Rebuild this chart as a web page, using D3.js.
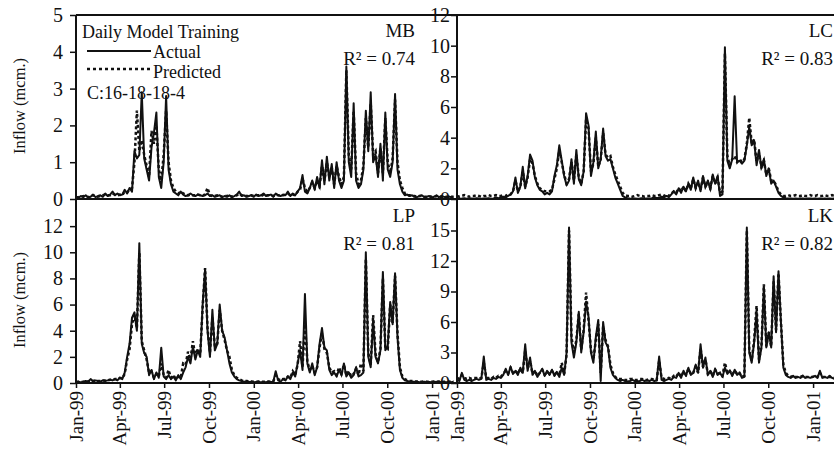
<!DOCTYPE html>
<html>
<head>
<meta charset="utf-8">
<script src="https://cdn.jsdelivr.net/npm/d3@7"></script>
<style>
  body { margin: 0; background: #fff; }
  svg, svg text { font-family: "Liberation Serif", "Times New Roman", "DejaVu Serif", serif; }
</style>
</head>
<body>
<svg id="chart" width="834" height="462"></svg>
<script>
// daily inflow, sampled every 5 days from 1 Jan 1999
var startDate = new Date(Date.UTC(1999, 0, 1));
var stepDays = 5;

var mbActual = [
  0.05,0.03,0.08,0.05,0.1,0.04,0.06,0.12,0.05,0.08,
  0.1,0.06,0.15,0.08,0.12,0.2,0.1,0.15,0.1,0.12,
  0.25,0.15,0.3,0.2,1.3,1.1,1.2,2.9,1.1,0.8,
  0.5,1.4,1.8,2.35,0.6,0.3,1.0,2.8,0.8,0.4,
  0.2,0.15,0.1,0.2,0.12,0.08,0.1,0.15,0.1,0.08,
  0.12,0.1,0.08,0.1,0.15,0.08,0.1,0.06,0.08,0.1,
  0.05,0.08,0.06,0.1,0.05,0.08,0.12,0.2,0.08,0.1,
  0.06,0.08,0.1,0.06,0.12,0.08,0.1,0.15,0.08,0.1,
  0.12,0.06,0.15,0.1,0.08,0.12,0.1,0.2,0.08,0.15,
  0.1,0.2,0.3,0.65,0.2,0.15,0.3,0.5,0.25,0.6,
  0.3,1.05,0.4,1.15,0.5,0.95,0.3,1.0,0.5,0.3,
  0.5,3.6,1.0,0.6,2.6,0.5,0.3,0.4,0.8,2.4,
  1.3,2.9,1.0,1.2,0.6,1.5,0.5,2.35,0.8,0.6,
  1.0,2.85,0.8,0.4,0.2,0.1,0.12,0.08,0.1,0.06,
  0.05,0.08,0.1,0.05,0.06,0.08,0.04,0.06,0.1,0.05,
  0.08,0.06,0.05,0.07,0.05,0.06];
var mbPredicted = [
  0.05,0.05,0.06,0.08,0.06,0.05,0.08,0.1,0.08,0.06,
  0.08,0.1,0.12,0.1,0.1,0.15,0.12,0.1,0.12,0.1,
  0.2,0.18,0.25,0.3,1.0,2.4,1.3,1.6,1.2,0.9,
  0.6,1.85,1.5,2.0,0.8,0.5,1.2,2.4,1.0,0.5,
  0.3,0.2,0.15,0.2,0.15,0.12,0.1,0.12,0.1,0.1,
  0.12,0.1,0.1,0.12,0.3,0.1,0.08,0.08,0.1,0.08,
  0.06,0.08,0.08,0.1,0.06,0.08,0.1,0.15,0.1,0.1,
  0.08,0.08,0.1,0.08,0.1,0.1,0.08,0.12,0.1,0.1,
  0.1,0.08,0.12,0.1,0.1,0.1,0.12,0.15,0.1,0.12,
  0.1,0.2,0.25,0.55,0.3,0.2,0.3,0.45,0.3,0.5,
  0.35,0.9,0.5,1.0,0.6,0.85,0.4,0.9,0.6,0.4,
  0.6,3.5,1.2,0.8,2.4,0.7,0.4,0.5,0.9,2.2,
  1.4,2.6,1.2,1.3,0.7,1.4,0.7,2.2,1.0,0.7,
  1.1,2.7,1.0,0.5,0.3,0.15,0.1,0.1,0.08,0.08,
  0.06,0.08,0.08,0.06,0.06,0.08,0.06,0.06,0.08,0.06,
  0.06,0.06,0.06,0.06,0.06,0.06];

var lcActual = [
  0.05,0.02,0.03,0.05,0.02,0.04,0.03,0.02,0.05,0.03,
  0.02,0.04,0.03,0.05,0.02,0.04,0.1,0.05,0.08,0.15,
  0.1,0.2,0.3,0.5,1.4,0.4,0.8,2.1,0.7,1.5,
  2.9,2.5,1.4,0.9,0.6,0.5,0.3,0.4,0.3,0.5,
  1.5,2.2,3.5,2.5,1.5,0.9,1.2,2.6,1.0,3.2,
  1.3,0.9,1.8,5.6,4.8,1.5,2.4,4.4,2.0,2.6,
  4.6,2.8,2.5,2.6,2.0,1.4,1.0,0.6,0.2,0.1,
  0.05,0.03,0.02,0.04,0.02,0.03,0.05,0.02,0.04,0.03,
  0.05,0.1,0.06,0.08,0.15,0.1,0.2,0.12,0.3,0.5,
  0.3,0.7,0.4,0.8,0.5,1.0,0.6,1.4,0.7,1.2,
  0.5,1.5,0.8,1.2,0.6,1.6,1.0,1.5,0.2,0.3,
  9.9,2.5,2.0,2.6,6.7,2.4,2.5,2.3,2.5,3.5,
  4.7,3.5,3.8,2.2,3.2,2.0,2.6,1.5,2.0,1.0,
  1.2,0.8,0.4,0.2,0.1,0.05,0.03,0.04,0.02,0.03,
  0.02,0.04,0.03,0.02,0.03,0.04,0.02,0.03,0.02,0.03,
  0.02,0.03,0.02,0.03,0.02,0.03];
var lcPredicted = [
  0.2,0.15,0.2,0.25,0.2,0.15,0.2,0.2,0.25,0.2,
  0.15,0.2,0.2,0.25,0.2,0.2,0.25,0.2,0.2,0.25,
  0.2,0.3,0.3,0.5,1.2,0.5,0.8,1.8,0.8,1.4,
  2.6,2.3,1.5,1.0,0.7,0.6,0.5,0.5,0.5,0.6,
  1.3,2.0,3.2,2.4,1.6,1.0,1.3,2.4,1.2,2.9,
  1.4,1.0,1.8,5.2,4.6,1.8,2.3,4.0,2.1,2.6,
  4.3,2.9,2.7,2.8,2.1,1.6,1.2,0.8,0.4,0.25,
  0.2,0.2,0.15,0.2,0.25,0.2,0.2,0.15,0.2,0.2,
  0.25,0.2,0.2,0.25,0.3,0.2,0.3,0.2,0.35,0.5,
  0.4,0.7,0.5,0.8,0.5,1.0,0.7,1.3,0.7,1.1,
  0.6,1.4,0.8,1.1,0.7,1.5,1.0,1.4,0.4,0.5,
  9.5,2.8,2.2,2.6,2.8,2.4,2.6,2.4,2.6,3.6,
  5.3,3.6,3.9,2.4,3.0,2.1,2.5,1.6,2.0,1.2,
  1.2,0.9,0.5,0.3,0.2,0.2,0.25,0.2,0.2,0.25,
  0.2,0.2,0.25,0.2,0.2,0.25,0.2,0.2,0.25,0.2,
  0.2,0.25,0.2,0.2,0.25,0.2];

var lpActual = [
  0.05,0.1,0.05,0.08,0.15,0.1,0.3,0.12,0.2,0.15,
  0.1,0.2,0.15,0.2,0.25,0.2,0.3,0.2,0.4,0.3,
  0.8,2.0,3.0,5.0,5.4,4.0,10.7,3.0,2.3,2.0,
  0.6,1.0,0.3,0.8,0.4,2.7,0.5,0.3,0.6,0.3,
  0.5,0.2,0.6,0.3,0.8,1.2,2.0,1.5,2.8,1.8,
  2.5,2.0,6.0,8.7,4.0,2.0,5.6,2.5,3.0,6.0,
  4.0,3.5,2.5,1.5,0.8,0.5,0.3,0.2,0.15,0.1,
  0.12,0.08,0.1,0.06,0.08,0.1,0.05,0.08,0.06,0.1,
  0.08,0.1,0.9,0.2,0.1,0.3,0.2,0.5,0.3,0.8,
  0.5,1.5,2.5,1.0,6.8,1.5,0.8,1.5,0.6,1.2,
  3.0,4.2,2.7,2.5,1.0,0.6,0.8,0.5,1.0,0.6,
  1.5,0.5,0.8,0.4,0.6,1.2,0.5,0.6,0.8,10.0,
  2.0,1.2,4.8,2.0,1.5,2.5,8.5,2.5,2.8,6.2,
  4.5,8.4,3.5,1.0,0.4,0.2,0.15,0.1,0.12,0.08,
  0.1,0.06,0.08,0.1,0.05,0.08,0.06,0.1,0.08,0.1,
  0.06,0.08,0.05,0.08,0.06,0.1];
var lpPredicted = [
  0.1,0.1,0.08,0.1,0.12,0.1,0.2,0.15,0.2,0.15,
  0.15,0.2,0.2,0.2,0.25,0.25,0.3,0.3,0.4,0.35,
  0.7,1.8,2.6,4.5,5.2,4.2,10.0,3.2,2.5,1.8,
  0.8,0.9,0.4,0.7,0.5,1.5,0.6,0.4,1.0,0.4,
  0.6,0.3,0.5,0.4,1.5,1.4,2.4,1.8,3.2,2.0,
  2.6,2.2,5.8,8.8,4.2,2.3,5.0,2.8,3.0,5.6,
  4.0,3.3,2.5,2.0,1.0,0.6,0.4,0.3,0.2,0.15,
  0.15,0.12,0.12,0.1,0.1,0.12,0.1,0.1,0.1,0.12,
  0.1,0.12,0.6,0.3,0.2,0.3,0.3,0.5,0.4,0.9,
  0.6,1.4,3.2,1.2,4.5,1.6,1.0,1.3,0.8,1.2,
  2.7,3.8,2.6,2.3,1.2,0.8,0.9,0.6,1.2,0.7,
  1.4,0.6,0.9,0.5,0.7,1.1,0.6,1.5,0.9,9.5,
  2.3,1.4,5.2,2.2,1.6,2.6,8.0,2.7,2.6,6.0,
  4.6,8.2,3.8,1.2,0.5,0.3,0.2,0.15,0.15,0.12,
  0.12,0.1,0.1,0.12,0.1,0.1,0.1,0.12,0.1,0.12,
  0.1,0.1,0.1,0.12,0.1,0.12];

var lkActual = [
  0.3,0.2,1.0,0.3,0.2,0.3,0.2,0.3,0.4,0.3,
  0.4,2.6,0.3,0.4,0.3,0.5,0.4,0.6,0.5,0.8,
  1.4,0.8,1.6,0.9,1.2,0.8,1.5,1.0,3.8,1.2,
  2.5,0.8,1.2,0.6,1.0,1.4,0.7,1.2,0.8,1.3,
  0.7,1.1,0.6,1.5,0.8,3.0,15.3,4.0,2.5,4.0,
  7.0,3.0,5.0,8.0,6.5,3.0,2.0,4.5,6.2,0.2,
  6.0,4.0,3.5,1.5,0.8,0.5,0.3,0.2,0.3,0.2,
  0.15,0.2,0.3,0.2,0.15,0.2,0.3,0.2,0.25,0.2,
  0.3,0.2,0.25,2.6,0.3,0.2,0.3,0.4,0.3,0.6,
  0.5,1.0,0.5,1.2,0.7,1.5,0.8,1.0,1.8,1.0,
  3.8,1.5,2.5,0.8,1.2,0.6,1.4,0.8,1.0,0.6,
  1.5,0.9,1.2,0.7,1.3,0.8,1.0,0.5,0.6,15.3,
  3.0,2.0,4.0,7.0,2.0,3.5,9.5,3.5,5.0,3.5,
  10.5,5.0,11.0,6.0,1.5,0.8,0.6,0.5,0.7,0.5,
  0.6,0.5,0.7,0.5,0.6,0.5,0.6,0.7,0.5,1.2,
  0.5,0.6,0.5,0.7,0.5,0.4];
var lkPredicted = [
  0.5,0.4,0.8,0.5,0.4,0.5,0.4,0.5,0.5,0.4,
  0.5,2.0,0.5,0.5,0.4,0.6,0.5,0.7,0.6,0.9,
  1.2,0.9,1.5,1.0,1.2,0.9,1.4,1.0,3.2,1.4,
  2.2,0.9,1.2,0.7,1.0,1.3,0.8,1.1,0.9,1.2,
  0.8,1.1,0.7,2.0,0.9,2.8,15.0,4.5,3.0,4.2,
  6.8,3.3,5.2,8.9,6.2,3.2,2.3,4.2,5.8,1.0,
  5.6,4.2,3.6,1.8,1.0,0.6,0.4,0.4,0.4,0.3,
  0.3,0.4,0.4,0.3,0.3,0.4,0.4,0.3,0.3,0.4,
  0.4,0.3,0.3,2.2,0.5,0.4,0.4,0.5,0.4,0.7,
  0.6,1.0,0.6,1.1,0.8,1.4,0.9,1.0,1.6,1.0,
  3.4,1.6,2.3,0.9,1.2,0.7,1.3,0.9,1.0,0.7,
  2.0,1.0,1.2,0.8,1.2,0.9,1.0,0.6,0.7,15.0,
  3.2,2.2,4.2,7.6,2.3,3.6,9.7,3.6,5.0,3.6,
  10.0,5.2,10.8,6.0,1.8,1.0,0.7,0.6,0.7,0.6,
  0.6,0.6,0.7,0.6,0.6,0.6,0.6,0.7,0.6,1.0,
  0.6,0.6,0.6,0.6,0.6,0.5];

var monthTicks = ["1999-01-01","1999-04-01","1999-07-01","1999-10-01","2000-01-01",
                  "2000-04-01","2000-07-01","2000-10-01","2001-01-01"];

var panels = [
  {name: "MB", r2: "0.74", actual: mbActual, predicted: mbPredicted, yMax: 5,  yTicks: [0,1,2,3,4,5],    col: 0, row: 0},
  {name: "LC", r2: "0.83", actual: lcActual, predicted: lcPredicted, yMax: 12, yTicks: [0,2,4,6,8,10,12], col: 1, row: 0},
  {name: "LP", r2: "0.81", actual: lpActual, predicted: lpPredicted, yMax: 14, yTicks: [0,2,4,6,8,10,12], col: 0, row: 1},
  {name: "LK", r2: "0.82", actual: lkActual, predicted: lkPredicted, yMax: 18, yTicks: [0,3,6,9,12,15],   col: 1, row: 1}
];

var serif = "'Liberation Serif', 'Times New Roman', 'DejaVu Serif', serif";
var colX = [76, 457];          // y axis position of each column
var spanX = 378;               // plot width for the whole date span
var rowY = [[199, 15], [383, 200]];

var endDate = d3.utcDay.offset(startDate, 776);
var parse = d3.utcParse("%Y-%m-%d");
var fmt = d3.utcFormat("%b-%y");
var tickDates = monthTicks.map(parse);

var svg = d3.select("#chart");
var dataG = svg.append("g");
var axisG = svg.append("g").attr("font-family", serif);
var frameG = svg.append("g");

panels.forEach(function (p) {
  var x = d3.scaleUtc().domain([startDate, endDate]).range([colX[p.col], colX[p.col] + spanX]);
  var y = d3.scaleLinear().domain([0, p.yMax]).range(rowY[p.row]);

  var line = d3.line()
      .x(function (d, i) { return x(d3.utcDay.offset(startDate, i * stepDays)); })
      .y(function (d) { return y(d); });

  dataG.append("path")
      .attr("d", line(p.actual))
      .attr("fill", "none")
      .attr("stroke", "#111")
      .attr("stroke-width", 2)
      .attr("stroke-linejoin", "round");

  dataG.append("path")
      .attr("d", line(p.predicted))
      .attr("fill", "none")
      .attr("stroke", "#111")
      .attr("stroke-width", 2.5)
      .attr("stroke-dasharray", "3,2.5");

  // y axis
  var ya = axisG.append("g")
      .attr("transform", "translate(" + colX[p.col] + ",0)")
      .call(d3.axisLeft(y).tickValues(p.yTicks).tickFormat(d3.format("d"))
            .tickSize(6).tickPadding(p.col == 0 ? 7 : 1));
  ya.attr("font-family", serif).attr("font-size", 20);
  ya.select(".domain").remove();
  ya.selectAll("line").attr("stroke", "#111").attr("stroke-width", 1.5);
  ya.selectAll("text").attr("fill", "#111");

  // month ticks on bottom row
  if (p.row == 1) {
    var xa = axisG.append("g")
        .attr("transform", "translate(0," + rowY[1][0] + ")")
        .call(d3.axisBottom(x).tickValues(tickDates).tickSize(5).tickFormat(""));
    xa.select(".domain").remove();
    xa.selectAll("line").attr("stroke", "#111").attr("stroke-width", 1.5);

    axisG.append("g").selectAll("text")
        .data(tickDates)
        .enter().append("text")
        .attr("transform", function (d) { return "translate(" + x(d) + ",391) rotate(-90)"; })
        .attr("dy", "0.35em")
        .attr("text-anchor", "end")
        .attr("font-size", 19)
        .attr("fill", "#111")
        .text(function (d) { return fmt(d); });
  }

  // station label and R2
  var right = p.col == 0 ? 415 : 833;
  var top = p.row == 0 ? 37 : 222;
  axisG.append("text")
      .attr("x", right).attr("y", top)
      .attr("text-anchor", "end")
      .attr("font-size", 19)
      .attr("fill", "#111")
      .text(p.name);
  axisG.append("text")
      .attr("x", right).attr("y", top + 28)
      .attr("text-anchor", "end")
      .attr("font-size", 19)
      .attr("fill", "#111")
      .text("R\u00b2 = " + p.r2);
});

// y titles
[106, 300].forEach(function (cy) {
  axisG.append("text")
      .attr("transform", "translate(25," + cy + ") rotate(-90)")
      .attr("text-anchor", "middle")
      .attr("font-size", 16.5)
      .attr("fill", "#111")
      .text("Inflow (mcm.)");
});

// legend
var leg = axisG.append("g").attr("font-size", 18).attr("fill", "#111");
leg.append("text").attr("x", 82).attr("y", 38).text("Daily Model Training");
leg.append("line").attr("x1", 87).attr("x2", 151).attr("y1", 51).attr("y2", 51)
    .attr("stroke", "#111").attr("stroke-width", 2);
leg.append("text").attr("x", 153).attr("y", 58).text("Actual");
leg.append("line").attr("x1", 87).attr("x2", 151).attr("y1", 69).attr("y2", 69)
    .attr("stroke", "#111").attr("stroke-width", 2.4).attr("stroke-dasharray", "3,3");
leg.append("text").attr("x", 153).attr("y", 78).text("Predicted");
leg.append("text").attr("x", 87).attr("y", 99).text("C:16-18-18-4");

// frame
var frame = [
  [76, 15, 834, 15], [76, 199, 834, 199], [76, 383, 834, 383],
  [76, 15, 76, 383], [457, 15, 457, 383]
];
frameG.selectAll("line").data(frame).enter().append("line")
    .attr("x1", function (d) { return d[0]; })
    .attr("y1", function (d) { return d[1]; })
    .attr("x2", function (d) { return d[2]; })
    .attr("y2", function (d) { return d[3]; })
    .attr("stroke", "#111")
    .attr("stroke-width", 2);
</script>
</body>
</html>
